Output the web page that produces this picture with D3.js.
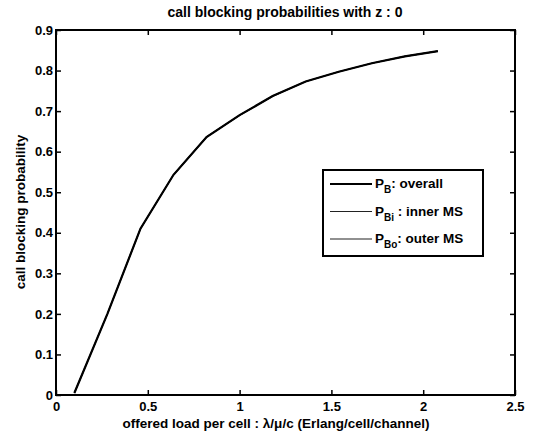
<!DOCTYPE html>
<html><head><meta charset="utf-8">
<script src="https://cdn.jsdelivr.net/npm/d3@7"></script>
<style>body{margin:0;background:#fff}text{font-family:"Liberation Sans",Arial,sans-serif;font-weight:bold;fill:#000}</style>
</head><body><svg id="c" width="536" height="436"></svg>
<script>
const load = [0.1, 0.28, 0.46, 0.64, 0.82, 1.0, 1.18, 1.36, 1.54, 1.72, 1.9, 2.08];
const pOverall = [0.005, 0.2, 0.41, 0.543, 0.636, 0.69, 0.737, 0.773, 0.797, 0.818, 0.835, 0.848];
const pInner = [0.005, 0.2, 0.41, 0.543, 0.636, 0.69, 0.737, 0.773, 0.797, 0.818, 0.835, 0.848];
const pOuter = [0.005, 0.2, 0.41, 0.543, 0.636, 0.69, 0.737, 0.773, 0.797, 0.818, 0.835, 0.848];
const xTicks = [0, 0.5, 1, 1.5, 2, 2.5];
const yTicks = [0, 0.1, 0.2, 0.3, 0.4, 0.5, 0.6, 0.7, 0.8, 0.9];

const svg = d3.select("#c");
const L = 56, R = 515, T = 30, B = 395;
const x = d3.scaleLinear().domain([0, 2.5]).range([L, R]);
const y = d3.scaleLinear().domain([0, 0.9]).range([B, T]);
const fmt = d => d === 0 ? "0" : String(d);

svg.append("g").attr("transform", `translate(0,${B})`)
  .call(d3.axisBottom(x).tickValues(xTicks).tickSize(-5).tickPadding(7).tickFormat(fmt))
  .call(g => g.select(".domain").remove());
svg.append("g").attr("transform", `translate(0,${T})`)
  .call(d3.axisTop(x).tickValues(xTicks).tickSize(-5).tickFormat(""))
  .call(g => g.select(".domain").remove());
svg.append("g").attr("transform", `translate(${L},0)`)
  .call(d3.axisLeft(y).tickValues(yTicks).tickSize(-5).tickPadding(3).tickFormat(fmt))
  .call(g => g.select(".domain").remove());
svg.append("g").attr("transform", `translate(${R},0)`)
  .call(d3.axisRight(y).tickValues(yTicks).tickSize(-5).tickFormat(""))
  .call(g => g.select(".domain").remove());
svg.selectAll(".tick line").attr("stroke", "#000").attr("stroke-width", 1.5);
svg.selectAll(".tick text").style("font-size", "13px").style("font-family", "Liberation Sans, Arial, sans-serif").style("font-weight", "bold");

svg.append("rect").attr("x", L).attr("y", T).attr("width", R - L).attr("height", B - T)
  .attr("fill", "none").attr("stroke", "#000").attr("stroke-width", 2);

const line = d3.line().x(d => x(d[0])).y(d => y(d[1]));
const series = [
  {vals: pOuter, w: 1.2, name: "Bo", label: ": outer MS", c: "#222"},
  {vals: pInner, w: 1.2, name: "Bi", label: " : inner MS", c: "#222"},
  {vals: pOverall, w: 2.2, name: "B", label: ": overall", c: "#000"}
];
series.forEach(s => {
  svg.append("path").datum(load.map((v, i) => [v, s.vals[i]]))
    .attr("d", line).attr("fill", "none").attr("stroke", s.c).attr("stroke-width", s.w);
});

svg.append("text").attr("x", 285).attr("y", 17).attr("text-anchor", "middle")
  .style("font-size", "14px").text("call blocking probabilities with z : 0");
svg.append("text").attr("x", 276).attr("y", 428).attr("text-anchor", "middle")
  .style("font-size", "13.5px").text("offered load per cell : λ/μ/c (Erlang/cell/channel)");
svg.append("text").attr("transform", "translate(25,212) rotate(-90)").attr("text-anchor", "middle")
  .style("font-size", "13.5px").text("call blocking probability");

const lg = svg.append("g");
lg.append("rect").attr("x", 323).attr("y", 170).attr("width", 160).attr("height", 86)
  .attr("fill", "#fff").attr("stroke", "#000").attr("stroke-width", 2);
const legOrder = [series[2], series[1], series[0]];
legOrder.forEach((s, i) => {
  const yy = 184 + i * 27.5;
  lg.append("line").attr("x1", 330).attr("x2", 372).attr("y1", yy).attr("y2", yy)
    .attr("stroke", s.c).attr("stroke-width", s.w);
  const t = lg.append("text").attr("x", 375).attr("y", yy + 4).style("font-size", "13.5px");
  t.append("tspan").text("P");
  t.append("tspan").attr("dy", 5).style("font-size", "10px").text(s.name);
  t.append("tspan").attr("dy", -5).text(s.label);
});
</script></body></html>
